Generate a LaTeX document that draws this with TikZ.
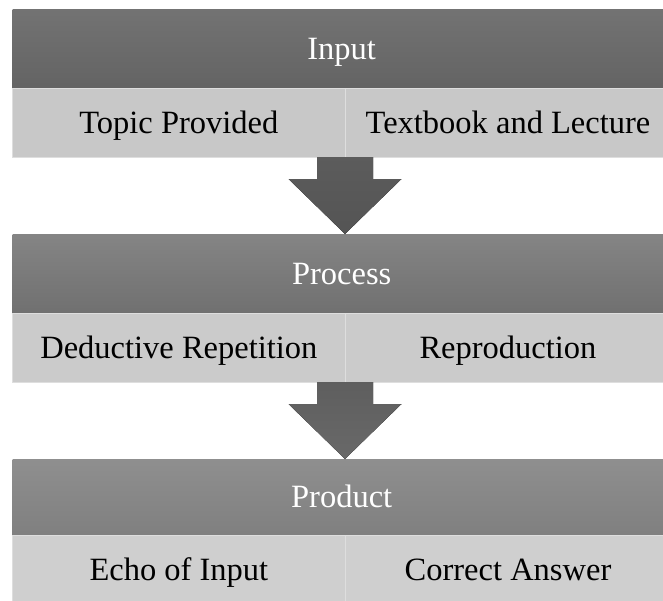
\documentclass[tikz,border=0pt]{standalone}
\usepackage{fontspec}
\setmainfont{Liberation Serif}
\usetikzlibrary{positioning,calc}

\definecolor{cellline}{HTML}{DEDEDE}

\begin{document}
\begin{tikzpicture}
    [x=1pt, y=-1pt, font=\fontsize{32.5}{38}\selectfont,
    % STYLES
    % The stage style is used for the dark bands with the stage names
    stage/.style={rectangle, inner sep=0pt, outer sep=0pt, minimum width=658pt, minimum height=79pt, text=white, text height=21.5pt, text depth=0pt},
    % The cell style is used for the light boxes under each band
    cell/.style={rectangle, draw=cellline, line width=0.6pt, inner sep=0pt, outer sep=0pt, minimum height=69pt, text height=21.5pt, text depth=0pt},
    % The flow style is used for the big arrows between the stages
    flow/.style={draw=none}]

    \path[use as bounding box, clip] (0,0) rectangle (663,600);

    % Draw stages
    \node [stage, top color=black!55, bottom color=black!61] (input) at (341.7,48.5) {Input};
    \node [cell, fill=black!21.5, minimum width=332.3pt, below right=0pt of input.south west] (topic) {Topic Provided};
    \node [cell, fill=black!21.5, minimum width=326pt, right=0pt of topic] (textbook) {Textbook and Lecture};

    \node [stage, top color=black!48, bottom color=black!56] (process) at (341.7,273.5) {Process};
    \node [cell, fill=black!20.5, minimum width=332.3pt, below right=0pt of process.south west] (deductive) {Deductive Repetition};
    \node [cell, fill=black!20.5, minimum width=326pt, right=0pt of deductive] (reproduction) {Reproduction};

    \node [stage, minimum height=76pt, top color=black!44, bottom color=black!50] (product) at (341.7,497) {Product};
    \node [cell, fill=black!19, minimum width=332.3pt, below right=0pt of product.south west] (echo) {Echo of Input};
    \node [cell, fill=black!19, minimum width=326pt, right=0pt of echo] (answer) {Correct Answer};

    % Draw the arrows between stages
    \fill [flow, top color=black!64, bottom color=black!67]
        ($(topic.south east)+(-28,0)$) -- ($(topic.south east)+(28,0)$)
        -- ($(topic.south east)+(28,22)$) -- ($(topic.south east)+(56.5,22)$)
        -- (topic.south east |- process.north)
        -- ($(topic.south east)+(-56.5,22)$) -- ($(topic.south east)+(-28,22)$) -- cycle;
    \fill [flow, top color=black!63, bottom color=black!59]
        ($(deductive.south east)+(-28,0)$) -- ($(deductive.south east)+(28,0)$)
        -- ($(deductive.south east)+(28,22)$) -- ($(deductive.south east)+(56.5,22)$)
        -- (deductive.south east |- product.north)
        -- ($(deductive.south east)+(-56.5,22)$) -- ($(deductive.south east)+(-28,22)$) -- cycle;
\end{tikzpicture}
\end{document}
